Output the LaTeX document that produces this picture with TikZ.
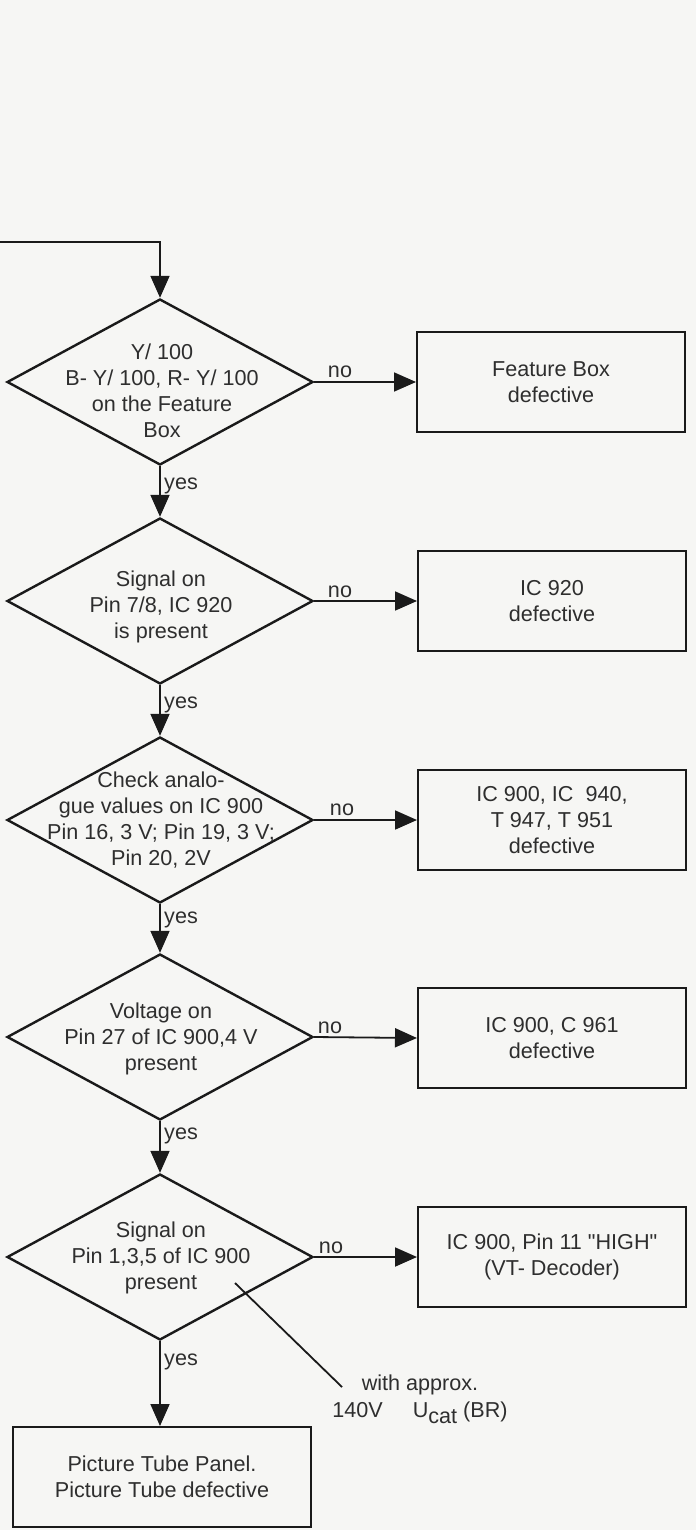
\documentclass[tikz,border=0pt]{standalone}
\usepackage{fontspec}
\setmainfont{Liberation Sans}[Ligatures=TeXOff]
\usetikzlibrary{shapes.geometric,arrows.meta}
\definecolor{ink}{HTML}{1A1A1A}
\definecolor{txt}{HTML}{2E2E2E}
\definecolor{paper}{HTML}{F6F6F4}

\begin{document}
\begin{tikzpicture}[x=1pt,y=-1pt,
  every node/.style={font=\fontsize{21.6pt}{26pt}\selectfont, text=txt},
  decision/.style={draw=ink, line width=2.4pt, shape=diamond,
    minimum width=306pt, minimum height=166pt, inner sep=0pt},
  result/.style={draw=ink, line width=2pt, rectangle,
    minimum width=268pt, minimum height=100pt, inner sep=0pt, align=center},
  txtblock/.style={align=center, inner sep=0pt},
  flow/.style={draw=ink, line width=1.8pt, -{Triangle[length=22pt,width=19pt]}},
  lbl/.style={inner sep=0pt, anchor=base},
  ylbl/.style={inner sep=0pt, anchor=base west}]

% page
\fill[paper] (0,0) rectangle (696,1530);
\useasboundingbox (0,0) rectangle (696,1530);

% decisions
\node[decision] (d1) at (160,382) {};
\node[decision] (d2) at (160,601) {};
\node[decision] (d3) at (160,820) {};
\node[decision] (d4) at (160,1037) {};
\node[decision] (d5) at (160,1257) {};

\node[txtblock] (t1) at (162,391) {Y/ 100\\B- Y/ 100, R- Y/ 100\\on the Feature\\Box};
\node[txtblock] (t2) at (161,607) {Signal on\\Pin 7/8, IC 920\\is present};
\node[txtblock] (t3) at (161,820) {Check analo-\\gue values on IC 900\\Pin 16, 3 V; Pin 19, 3 V;\\Pin 20, 2V};
\node[txtblock] (t4) at (161,1039) {Voltage on\\Pin 27 of IC 900,4 V\\present};
\node[txtblock] (t5) at (161,1258) {Signal on\\Pin 1,3,5 of IC 900\\present};

% results
\node[result] (b1) at (551,382) {Feature Box\\defective};
\node[result] (b2) at (552,601) {IC 920\\defective};
\node[result] (b3) at (552,820) {IC 900, IC~~940,\\T 947, T 951\\defective};
\node[result] (b4) at (552,1038) {IC 900, C 961\\defective};
\node[result] (b5) at (552,1257) {IC 900, Pin 11 "HIGH"\\(VT- Decoder)};
\node[result, minimum width=298pt] (b6) at (162,1477) {Picture Tube Panel.\\Picture Tube defective};

% entry from the previous page
\coordinate (entry) at (0,242);
\draw[flow] (entry) -- (entry -| d1.north) -- (d1.north);

% yes path
\draw[flow] (d1.south) -- (d2.north);
\draw[flow] (d2.south) -- (d3.north);
\draw[flow] (d3.south) -- (d4.north);
\draw[flow] (d4.south) -- (d5.north);
\draw[flow] (d5.south) -- (d5.south |- b6.north);

\node[ylbl] (y1) at (164,489) {yes};
\node[ylbl] (y2) at (164,708) {yes};
\node[ylbl] (y3) at (164,923) {yes};
\node[ylbl] (y4) at (164,1139) {yes};
\node[ylbl] (y5) at (164,1365) {yes};

% no branches
\draw[flow] (d1.east) -- (b1.west);
\draw[flow] (d2.east) -- (b2.west);
\draw[flow] (d3.east) -- (b3.west);
\draw[flow] (d4.east) -- (b4.west);
\draw[flow] (d5.east) -- (b5.west);

\node[lbl] (n1) at (340,377) {no};
\node[lbl] (n2) at (340,597) {no};
\node[lbl] (n3) at (342,815) {no};
\node[lbl] (n4) at (330,1033) {no};
\node[lbl] (n5) at (331,1253) {no};

% cathode voltage note
\coordinate (tapA) at (235,1283);
\coordinate (tapB) at (342,1387);
\draw[ink, line width=1.8pt] (tapA) -- (tapB);
\node[txtblock, font=\fontsize{21.6pt}{27pt}\selectfont] (note) at (420,1399)
  {with approx.\\140V\hspace{30pt}U\raisebox{-6pt}{cat} (BR)};

\end{tikzpicture}
\end{document}
